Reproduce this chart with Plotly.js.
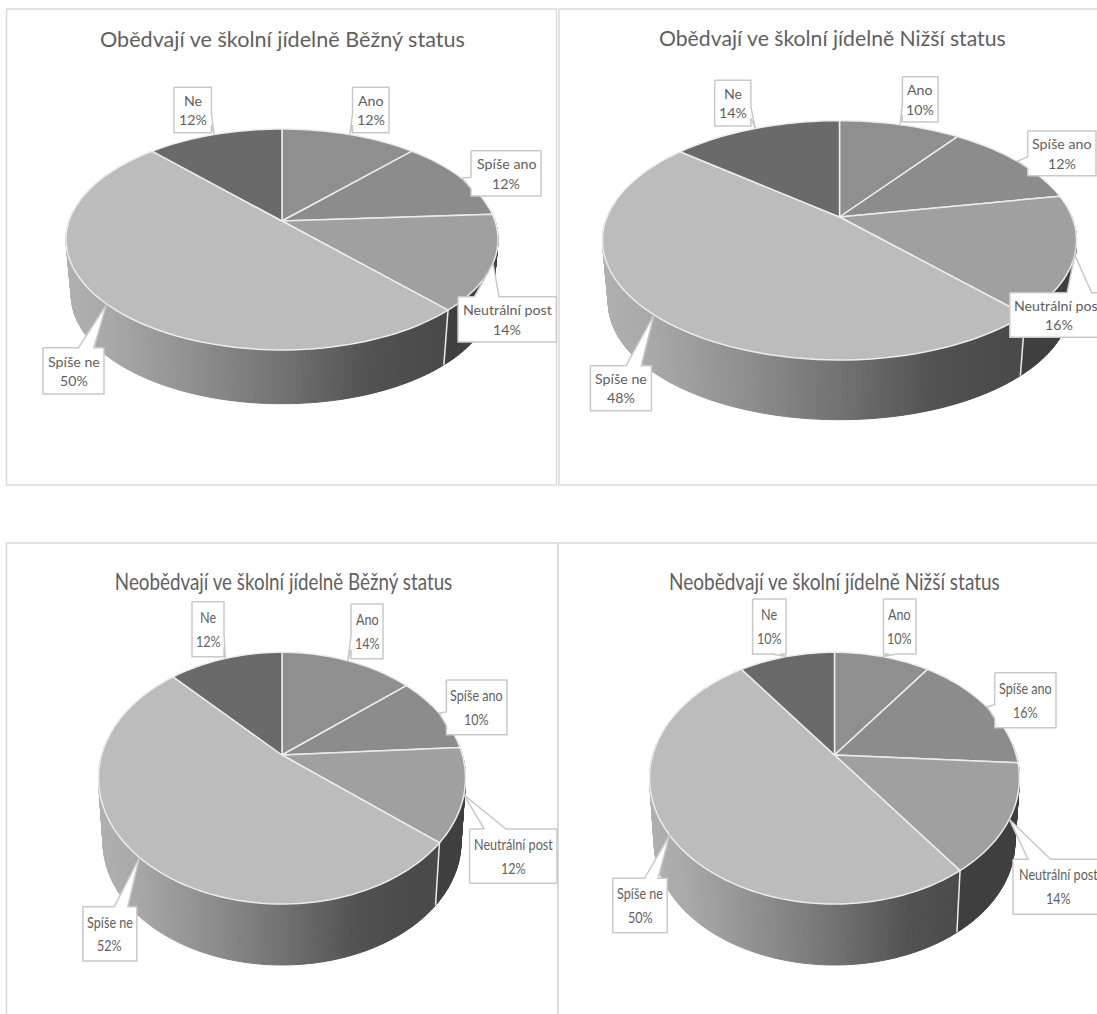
<!DOCTYPE html>
<html>
<head>
<meta charset="utf-8">
<script src="https://cdn.plot.ly/plotly-3.0.1.min.js"></script>
<style>html,body{margin:0;padding:0;background:#fff;overflow:hidden}#chart{width:1097px;height:1014px}</style>
</head>
<body>
<div id="chart"></div>
<script>
// Survey answers: one share list per chart, in percent, clockwise from the top.
const categories = ['Ano', 'Spíše ano', 'Neutrální post', 'Spíše ne', 'Ne'];
const obedvajiBezny = [12, 12, 14, 50, 12];
const obedvajiNizsi = [10, 12, 16, 48, 14];
const neobedvajiBezny = [14, 10, 12, 52, 12];
const neobedvajiNizsi = [10, 16, 14, 50, 10];
const chartTitles = [
  'Obědvají ve školní jídelně Běžný status',
  'Obědvají ve školní jídelně Nižší status',
  'Neobědvají ve školní jídelně Běžný status',
  'Neobědvají ve školní jídelně Nižší status'
];
const chartValues = [obedvajiBezny, obedvajiNizsi, neobedvajiBezny, neobedvajiNizsi];

// Perspective disc for each chart: hub position, half-axes, foreshortening and wall depth.
const hubX = [282, 839.5, 282, 834.5];
const hubY = [221, 217, 755, 755];
const axisA = [213, 232.5, 180.4, 181.8];
const axisB = [107.4, 115.1, 121.6, 121.6];
const tilt = [0.167, 0.195, 0.184, 0.184];
const depth = [57, 63.3, 64.7, 64.7];
const baseScale = 0.975;

// Title placement and callout boxes [x0, y0, x1, y1], in category order.
const titleCentreX = [282.5, 832.5, 283, 834];
const titleCentreY = [39, 38, 580, 580];
const titleSize = [21.6, 21.2, 18.8, 19];
const labelSize = [14.2, 14.2, 12.6, 12.6];
const labelGap = [19.5, 19.5, 23.7, 23.7];
const textStretch = [1, 1, 1.22, 1.22];
const calloutBoxes = [
  [[352.5, 87.3, 389, 132.7], [471, 150.7, 541, 196], [458, 296.7, 556.4, 342], [43, 347.7, 104, 394], [174, 87.3, 211.4, 132.7]],
  [[902.4, 76.7, 938, 122], [1027.7, 131, 1096, 175.7], [1009.8, 292.7, 1108, 337.3], [590.4, 365.7, 651.4, 410.7], [714.7, 80.3, 750.9, 126]],
  [[351, 604, 383, 658.7], [446.4, 680, 507, 734.7], [469.6, 829, 557, 883.3], [82.9, 906.7, 136.8, 961], [192, 601.7, 224, 656.7]],
  [[883.4, 599, 916, 654], [994.7, 672.7, 1056, 727.7], [1013, 859.3, 1103, 914.3], [612.8, 878.3, 667.2, 932.7], [752.6, 599, 786, 654]]
];

// Panel frames [x0, y0, x1, y1]; the right and lower ones run off the page.
const frames = [[6.5, 9, 556.5, 485], [559, 9, 1110, 485], [6.5, 543, 558, 1030], [558, 543, 1110, 1030]];

// Slice styling
const faceColors = ['#8f8f8f', '#8c8c8c', '#a0a0a0', '#bcbcbc', '#6a6a6a'];
const wallFlat = ['#383838', '#383838', '#3f3f3f', null, '#6a6a6a'];
const wallStops = [[0, 176], [0.1, 168], [0.3, 142], [0.5, 114], [0.7, 82], [0.85, 74], [1, 74]];
const edgeColor = '#ececec';
const frameColor = '#d9d9d9';
const calloutLine = '#c9c9c9';
const textColor = '#5f5f5f';
const fontFamily = 'Lato, "Open Sans", sans-serif';

const deg = Math.PI / 180;

// Projects an angle on the disc (clockwise from the top) to page coordinates.
function rimPoint(p, thetaDeg, lower) {
  const u = Math.sin(thetaDeg * deg);
  const v = Math.cos(thetaDeg * deg);
  const w = 1 + tilt[p] * v;
  const s = lower ? baseScale : 1;
  return [
    hubX[p] + s * axisA[p] * u / w,
    hubY[p] + (lower ? depth[p] : 0) - s * axisB[p] * v / w
  ];
}

function wallGrey(t) {
  for (let i = 1; i < wallStops.length; i++) {
    if (t <= wallStops[i][0]) {
      const [t0, g0] = wallStops[i - 1];
      const [t1, g1] = wallStops[i];
      const g = Math.round(g0 + (g1 - g0) * (t - t0) / (t1 - t0));
      return `rgb(${g},${g},${g})`;
    }
  }
  return 'rgb(74,74,74)';
}

function polygon(xs, ys, fill, lineColor, lineWidth) {
  return {
    type: 'scatter', mode: 'lines', x: xs, y: ys,
    fill: 'toself', fillcolor: fill,
    line: { color: lineColor, width: lineWidth, simplify: false },
    hoverinfo: 'skip', showlegend: false
  };
}

// Rectangular callout whose wedge leaves the side facing the tip, as office callouts do.
function calloutOutline(box, tip) {
  const [x0, y0, x1, y1] = box;
  const w = x1 - x0, h = y1 - y0;
  const dx = tip[0] - (x0 + x1) / 2, dy = tip[1] - (y0 + y1) / 2;
  const xa = x0 + w * (dx > 0 ? 7 : 2) / 12, xb = x0 + w * (dx > 0 ? 10 : 5) / 12;
  const ya = y0 + h * (dy > 0 ? 7 : 2) / 12, yb = y0 + h * (dy > 0 ? 10 : 5) / 12;
  const pts = [[x0, y0]];
  const vertical = Math.abs(dy) > Math.abs(dx * h / w);
  if (vertical && dy < 0) pts.push([xa, y0], tip, [xb, y0]);
  pts.push([x1, y0]);
  if (!vertical && dx > 0) pts.push([x1, ya], tip, [x1, yb]);
  pts.push([x1, y1]);
  if (vertical && dy > 0) pts.push([xb, y1], tip, [xa, y1]);
  pts.push([x0, y1]);
  if (!vertical && dx < 0) pts.push([x0, yb], tip, [x0, ya]);
  pts.push([x0, y0]);
  return [pts.map(q => q[0]), pts.map(q => q[1])];
}

const traces = [];
const annotations = [];
const annotationPanel = [];
const shapes = frames.map(f => ({
  type: 'rect', xref: 'x', yref: 'y', x0: f[0], y0: f[1], x1: f[2], y1: f[3],
  line: { color: frameColor, width: 1.5 }, fillcolor: 'rgba(0,0,0,0)', layer: 'below'
}));

chartValues.forEach((values, p) => {
  const total = values.reduce((a, b) => a + b, 0);
  let running = 0;
  const spans = values.map(v => {
    const start = running / total * 360;
    running += v;
    return [start, running / total * 360];
  });
  const pieLeft = rimPoint(p, 270 - 10, false)[0];
  const pieWidth = 2 * (hubX[p] - pieLeft);

  // Outer wall: narrow strips along the front of the disc.
  const stripStep = 1;
  spans.forEach((span, i) => {
    const from = Math.max(span[0], 84), to = Math.min(span[1], 276);
    if (to <= from) return;
    const n = Math.max(1, Math.round((to - from) / stripStep));
    for (let k = 0; k < n; k++) {
      const a = from + (to - from) * k / n, b = from + (to - from) * (k + 1) / n;
      const pts = [rimPoint(p, a, false), rimPoint(p, b, false), rimPoint(p, b, true), rimPoint(p, a, true)];
      pts.push(pts[0]);
      const midX = (pts[0][0] + pts[1][0]) / 2;
      const t = Math.min(1, Math.max(0, (midX - pieLeft) / pieWidth));
      const c = wallFlat[i] || wallGrey(t);
      traces.push(polygon(pts.map(q => q[0]), pts.map(q => q[1]), c, c, 1));
    }
  });

  // Light seams where slices meet on the wall.
  spans.forEach(span => {
    const th = span[1];
    if (th > 100 && th < 260) {
      const a = rimPoint(p, th, false), b = rimPoint(p, th, true);
      traces.push({
        type: 'scatter', mode: 'lines', x: [a[0], b[0]], y: [a[1], b[1]],
        line: { color: edgeColor, width: 1.5 }, hoverinfo: 'skip', showlegend: false
      });
    }
  });

  // Top face of each slice.
  spans.forEach((span, i) => {
    const xs = [hubX[p]], ys = [hubY[p]];
    const n = Math.max(4, Math.ceil((span[1] - span[0]) / 2));
    for (let k = 0; k <= n; k++) {
      const q = rimPoint(p, span[0] + (span[1] - span[0]) * k / n, false);
      xs.push(q[0]); ys.push(q[1]);
    }
    xs.push(hubX[p]); ys.push(hubY[p]);
    traces.push(polygon(xs, ys, faceColors[i], edgeColor, 1.5));
  });

  // Callouts pointing at the middle of each slice's rim.
  spans.forEach((span, i) => {
    const box = calloutBoxes[p][i];
    const tip = rimPoint(p, (span[0] + span[1]) / 2, false);
    const [ox, oy] = calloutOutline(box, tip);
    traces.push(polygon(ox, oy, '#ffffff', calloutLine, 1.5));
    const cx = (box[0] + box[2]) / 2, cy = (box[1] + box[3]) / 2;
    [[categories[i], -1], [values[i] + '%', 1]].forEach(([txt, side]) => {
      annotations.push({
        xref: 'x', yref: 'y', x: cx, y: cy + side * labelGap[p] / 2, text: txt,
        showarrow: false, xanchor: 'center', yanchor: 'middle',
        font: { family: fontFamily, size: labelSize[p], color: textColor }
      });
      annotationPanel.push(p);
    });
  });

  annotations.push({
    xref: 'x', yref: 'y', x: titleCentreX[p], y: titleCentreY[p], text: chartTitles[p],
    showarrow: false, xanchor: 'center', yanchor: 'middle',
    font: { family: fontFamily, size: titleSize[p], color: textColor }
  });
  annotationPanel.push(p);
});

const hiddenAxis = { visible: false, fixedrange: true, showgrid: false, zeroline: false };
Plotly.newPlot('chart', traces, {
  width: 1097, height: 1014,
  margin: { l: 0, r: 0, t: 0, b: 0 },
  paper_bgcolor: '#ffffff', plot_bgcolor: '#ffffff',
  showlegend: false,
  xaxis: Object.assign({ range: [0, 1097] }, hiddenAxis),
  yaxis: Object.assign({ range: [1014, 0] }, hiddenAxis),
  shapes: shapes,
  annotations: annotations
}, { displayModeBar: false, staticPlot: true }).then(gd => {
  // The lower charts use taller lettering: stretch their text around its own middle.
  gd.querySelectorAll('.annotation').forEach((g, idx) => {
    const stretch = textStretch[annotationPanel[idx]];
    const label = g.querySelector('text');
    if (stretch === 1 || !label) return;
    const box = label.getBBox();
    const cy = box.y + box.height / 2;
    label.setAttribute('transform', `translate(0 ${cy}) scale(1 ${stretch}) translate(0 ${-cy})`);
  });
});
</script>
</body>
</html>
